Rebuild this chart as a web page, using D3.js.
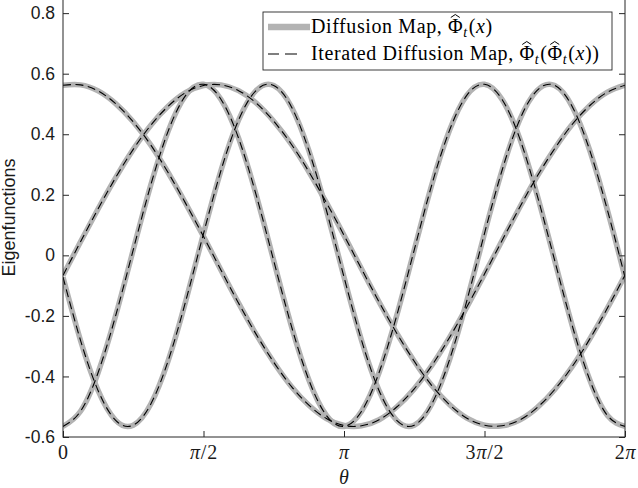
<!DOCTYPE html>
<html>
<head>
<meta charset="utf-8">
<script src="https://cdn.jsdelivr.net/npm/d3@7"></script>
<style>
  body { margin: 0; background: #fff; }
  svg { display: block; }
  .tick text { fill: #1a1a1a; }
</style>
</head>
<body>
<div id="chart"></div>
<script>
// sample angles theta (rad), read every pi/16
var theta = [0, 0.196, 0.393, 0.589, 0.785, 0.982, 1.178, 1.374, 1.571, 1.767, 1.963, 2.160, 2.356,
    2.553, 2.749, 2.945, 3.142, 3.338, 3.534, 3.731, 3.927, 4.123, 4.320, 4.516, 4.712, 4.909,
    5.105, 5.301, 5.498, 5.694, 5.890, 6.087, 6.283];

// four eigenfunctions
var eigA = [0.562, 0.563, 0.543, 0.501, 0.441, 0.364, 0.272, 0.170, 0.062, -0.049, -0.158, -0.261, -0.353,
    -0.433, -0.495, -0.539, -0.562, -0.563, -0.543, -0.501, -0.441, -0.364, -0.272, -0.170, -0.062, 0.049,
    0.158, 0.261, 0.353, 0.433, 0.495, 0.539, 0.562];
var eigB = [-0.066, 0.045, 0.154, 0.257, 0.350, 0.430, 0.493, 0.538, 0.561, 0.563, 0.544, 0.503, 0.443,
    0.367, 0.276, 0.174, 0.066, -0.045, -0.154, -0.257, -0.350, -0.430, -0.493, -0.538, -0.561, -0.563,
    -0.544, -0.503, -0.443, -0.367, -0.276, -0.174, -0.066];
var eigC = [-0.072, -0.281, -0.447, -0.545, -0.561, -0.491, -0.346, -0.149, 0.072, 0.281, 0.447, 0.545, 0.561,
    0.491, 0.346, 0.149, -0.072, -0.281, -0.447, -0.545, -0.561, -0.491, -0.346, -0.149, 0.072, 0.281,
    0.447, 0.545, 0.561, 0.491, 0.346, 0.149, -0.072];
var eigD = [-0.565, -0.515, -0.387, -0.199, 0.018, 0.233, 0.412, 0.529, 0.565, 0.515, 0.387, 0.199, -0.018,
    -0.233, -0.412, -0.529, -0.565, -0.515, -0.387, -0.199, 0.018, 0.233, 0.412, 0.529, 0.565, 0.515,
    0.387, 0.199, -0.018, -0.233, -0.412, -0.529, -0.565];

var yTicks = [-0.6, -0.4, -0.2, 0, 0.2, 0.4, 0.6, 0.8];
var xTicks = [0, Math.PI / 2, Math.PI, 3 * Math.PI / 2, 2 * Math.PI];
var xTickLabels = ["0", "π/2", "π", "3π/2", "2π"];

var width = 638, height = 488;
var plot = {left: 63, right: 625, top: -2, bottom: 437};
var serif = "Liberation Serif, Times New Roman, serif";
var sans = "Liberation Sans, Arial, sans-serif";

var x = d3.scaleLinear().domain([0, 2 * Math.PI]).range([plot.left, plot.right]);
var y = d3.scaleLinear().domain([-0.6, 0.85]).range([plot.bottom, plot.top]);

var svg = d3.select("#chart").append("svg")
    .attr("width", width)
    .attr("height", height);

svg.append("defs").append("clipPath").attr("id", "clip")
    .append("rect")
    .attr("x", plot.left).attr("y", plot.top)
    .attr("width", plot.right - plot.left).attr("height", plot.bottom - plot.top);

var series = [eigA, eigB, eigC, eigD];

var line = d3.line()
    .x(function(d, i) { return x(theta[i]); })
    .y(function(d) { return y(d); })
    .curve(d3.curveNatural);

var lines = svg.append("g").attr("clip-path", "url(#clip)");

// thick grey: diffusion map
lines.selectAll(".dm")
    .data(series)
    .enter().append("path")
    .attr("class", "dm")
    .attr("d", line)
    .attr("fill", "none")
    .attr("stroke", "#b3b3b3")
    .attr("stroke-width", 5.5);

// black dashed: iterated diffusion map
lines.selectAll(".idm")
    .data(series)
    .enter().append("path")
    .attr("class", "idm")
    .attr("d", line)
    .attr("fill", "none")
    .attr("stroke", "#000")
    .attr("stroke-width", 1.1)
    .attr("stroke-dasharray", "8,4.5");

// axes, ticks pointing in like matlab
var yAxis = d3.axisLeft(y).tickValues(yTicks).tickSizeInner(-6).tickSizeOuter(0).tickPadding(8)
    .tickFormat(function(d) { return d === 0 ? "0" : d.toFixed(1); });
var gy = svg.append("g").attr("transform", "translate(" + plot.left + ",0)").call(yAxis);
gy.select(".domain").remove();
gy.selectAll(".tick line").attr("stroke", "#262626");
gy.selectAll(".tick text")
    .attr("font-family", sans)
    .attr("font-size", 17.5);

var yAxisR = d3.axisRight(y).tickValues(yTicks).tickSizeInner(-6).tickSizeOuter(0).tickFormat("");
var gyr = svg.append("g").attr("transform", "translate(" + plot.right + ",0)").call(yAxisR);
gyr.select(".domain").remove();
gyr.selectAll(".tick line").attr("stroke", "#262626");

var xAxis = d3.axisBottom(x).tickValues(xTicks).tickSizeInner(-6).tickSizeOuter(0).tickFormat("");
var gx = svg.append("g").attr("transform", "translate(0," + plot.bottom + ")").call(xAxis);
gx.select(".domain").remove();
gx.selectAll(".tick line").attr("stroke", "#262626");

gx.selectAll(".tick").each(function(d, i) {
    var t = d3.select(this).append("text")
        .attr("y", 22)
        .attr("text-anchor", "middle")
        .attr("font-family", serif)
        .attr("font-size", 20)
        .attr("letter-spacing", 0.8)
        .attr("fill", "#1a1a1a");
    xTickLabels[i].split(/(π)/).forEach(function(part) {
        if (part === "") return;
        t.append("tspan")
            .attr("font-style", part === "π" ? "italic" : "normal")
            .text(part);
    });
});

svg.append("rect")
    .attr("x", plot.left).attr("y", plot.top)
    .attr("width", plot.right - plot.left).attr("height", plot.bottom - plot.top)
    .attr("fill", "none")
    .attr("stroke", "#262626")
    .attr("stroke-width", 1);

svg.append("text")
    .attr("x", (plot.left + plot.right) / 2)
    .attr("y", 484)
    .attr("text-anchor", "middle")
    .attr("font-family", serif)
    .attr("font-style", "italic")
    .attr("font-size", 20)
    .attr("fill", "#1a1a1a")
    .text("θ");

svg.append("text")
    .attr("transform", "translate(15," + ((plot.top + plot.bottom) / 2) + ") rotate(-90)")
    .attr("text-anchor", "middle")
    .attr("font-family", sans)
    .attr("font-size", 18)
    .attr("fill", "#1a1a1a")
    .text("Eigenfunctions");

// legend
var legend = svg.append("g");
legend.append("rect")
    .attr("x", 263).attr("y", 12)
    .attr("width", 349).attr("height", 58)
    .attr("fill", "#fff")
    .attr("stroke", "#262626")
    .attr("stroke-width", 0.9);

legend.append("line")
    .attr("x1", 268).attr("x2", 310).attr("y1", 27).attr("y2", 27)
    .attr("stroke", "#b3b3b3").attr("stroke-width", 6.5);
legend.append("line")
    .attr("x1", 268).attr("x2", 310).attr("y1", 54).attr("y2", 54)
    .attr("stroke", "#000").attr("stroke-width", 1.1)
    .attr("stroke-dasharray", "11,6,12,20");

function phiHat(t) {
    t.append("tspan").attr("class", "phi").text("Φ");
    t.append("tspan").attr("font-style", "italic").attr("font-size", 14).attr("dy", 4).text("t");
    t.append("tspan").attr("dy", -4).attr("dx", 1).text("(");
}

function legendText(yPos) {
    return legend.append("text")
        .attr("x", 311).attr("y", yPos)
        .attr("font-family", serif)
        .attr("font-size", 20)
        .attr("letter-spacing", 0.6)
        .attr("fill", "#000");
}

var leg1 = legendText(33);
leg1.append("tspan").text("Diffusion Map, ");
phiHat(leg1);
leg1.append("tspan").attr("font-style", "italic").text("x");
leg1.append("tspan").text(")");

var leg2 = legendText(60);
leg2.append("tspan").text("Iterated Diffusion Map, ");
phiHat(leg2);
phiHat(leg2);
leg2.append("tspan").attr("font-style", "italic").text("x");
leg2.append("tspan").text("))");

// hats over the Phi's
[[leg1, 33], [leg2, 60]].forEach(function(p) {
    p[0].selectAll(".phi").each(function() {
        var bb = this.getBBox();
        var cx = bb.x + (bb.width - 0.6) / 2;
        legend.append("path")
            .attr("d", "M" + (cx - 4.5) + "," + (p[1] - 15.5) + "L" + cx + "," + (p[1] - 18.5) +
                "L" + (cx + 4.5) + "," + (p[1] - 15.5))
            .attr("fill", "none")
            .attr("stroke", "#000")
            .attr("stroke-width", 1);
    });
});
</script>
</body>
</html>
